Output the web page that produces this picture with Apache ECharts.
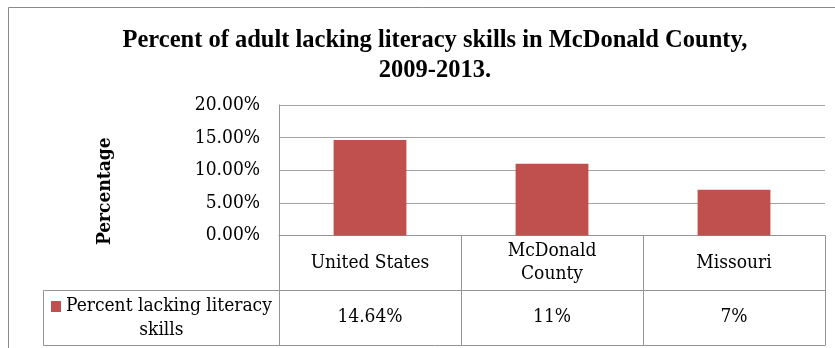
<!DOCTYPE html>
<html>
<head>
<meta charset="utf-8">
<script src="https://cdn.jsdelivr.net/npm/echarts@6/dist/echarts.min.js"></script>
<style>
  html, body { margin: 0; padding: 0; background: #fff; }
  #chart { width: 835px; height: 348px; }
</style>
</head>
<body>
<div id="chart"></div>
<script>
// Adult literacy, 2009-2013
const categories = ['United States', 'McDonald\nCounty', 'Missouri'];
const seriesName = 'Percent lacking literacy skills';
const values = [14.64, 11, 7];           // percent
const yTicks = { min: 0, max: 20, interval: 5 };

const BAR = '#c0504d';
const LINE = '#959595';
const GRID = '#a4a4a4';
const BODY_FONT = '"DejaVu Serif Condensed", "DejaVu Serif", serif';
const BODY_SIZE = 19;

const chart = echarts.init(document.getElementById('chart'), null, { renderer: 'canvas' });

chart.setOption({
  animation: false,
  backgroundColor: '#fff',
  title: {
    text: 'Percent of adult lacking literacy skills in McDonald County,\n2009-2013.',
    left: 430,
    top: 21,
    textAlign: 'center',
    textStyle: {
      fontFamily: '"Liberation Serif", serif',
      fontWeight: 'bold',
      fontSize: 24.5,
      lineHeight: 30,
      color: '#000'
    }
  },
  legend: {
    data: [seriesName],
    left: 46,
    top: 297,
    padding: 0,
    icon: 'rect',
    itemWidth: 0,
    itemHeight: 0,
    selectedMode: false,
    formatter: () => '{i|}{t|Percent lacking literacy}\n{s|skills}',
    textStyle: {
      fontFamily: BODY_FONT,
      fontSize: BODY_SIZE,
      color: '#000',
      rich: {
        i: { width: 10, height: 11, backgroundColor: BAR },
        t: { fontFamily: BODY_FONT, fontSize: BODY_SIZE, lineHeight: 24, padding: [0, 0, 0, 5] },
        s: { fontFamily: BODY_FONT, fontSize: BODY_SIZE, lineHeight: 24, align: 'center' }
      }
    }
  },
  grid: { left: 279, top: 105, right: 10, bottom: 112.5, containLabel: false },
  xAxis: [
    {
      type: 'category',
      data: categories,
      position: 'bottom',
      axisLine: { show: true, lineStyle: { color: LINE, width: 1 } },
      axisTick: { show: true, interval: 0, length: 110, lineStyle: { color: LINE, width: 1 } },
      axisLabel: {
        interval: 0,
        margin: 27.5,
        verticalAlign: 'middle',
        fontFamily: BODY_FONT,
        fontSize: BODY_SIZE,
        lineHeight: 23,
        color: '#000'
      }
    },
    {
      type: 'category',
      data: categories,
      position: 'bottom',
      offset: 54.5,
      axisLine: { show: true, lineStyle: { color: LINE, width: 1 } },
      axisTick: { show: false },
      axisLabel: {
        interval: 0,
        margin: 27.5,
        verticalAlign: 'middle',
        fontFamily: BODY_FONT,
        fontSize: BODY_SIZE,
        color: '#000',
        formatter: (v, i) => values[i] + '%'
      }
    }
  ],
  yAxis: {
    type: 'value',
    min: yTicks.min,
    max: yTicks.max,
    interval: yTicks.interval,
    name: 'Percentage',
    nameLocation: 'middle',
    nameRotate: 90,
    nameGap: 164,
    nameTextStyle: {
      fontFamily: BODY_FONT,
      fontWeight: 'bold',
      fontSize: 19,
      color: '#000',
      padding: [0, 42, 0, 0]
    },
    axisLine: { show: true, lineStyle: { color: LINE, width: 1 } },
    axisTick: { show: false },
    splitLine: { show: true, lineStyle: { color: GRID, width: 1 } },
    axisLabel: {
      margin: 19,
      fontFamily: BODY_FONT,
      fontSize: BODY_SIZE,
      color: '#000',
      formatter: v => v.toFixed(2) + '%'
    }
  },
  series: [
    {
      name: seriesName,
      type: 'bar',
      xAxisIndex: 0,
      data: values,
      barWidth: '40%',
      itemStyle: { color: BAR }
    }
  ],
  graphic: [
    // outer chart frame
    {
      type: 'rect',
      shape: { x: 8.5, y: 7.5, width: 900, height: 400 },
      style: { fill: null, stroke: '#8a8a8a', lineWidth: 1 },
      silent: true
    },
    // legend cell of the data table and the table's bottom edge
    {
      type: 'polyline',
      shape: { points: [[279, 290.5], [43.5, 290.5], [43.5, 345.5], [825, 345.5]] },
      style: { fill: null, stroke: LINE, lineWidth: 1 },
      silent: true
    }
  ]
});
</script>
</body>
</html>
